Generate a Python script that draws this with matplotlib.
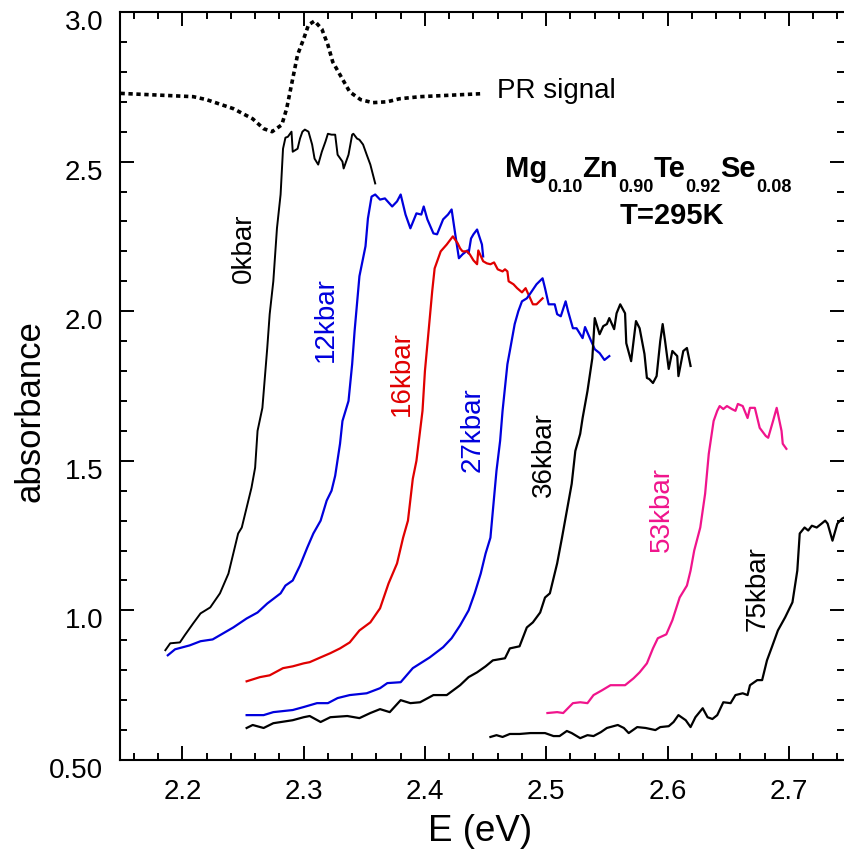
import matplotlib
matplotlib.use('Agg')
import matplotlib.pyplot as plt
import matplotlib.transforms as mtransforms
from matplotlib.ticker import MultipleLocator

plt.rcParams['font.family'] = ['Liberation Sans', 'DejaVu Sans']

# PR signal (dotted)
pr_e = [2.149, 2.209, 2.220, 2.242, 2.258, 2.267, 2.274, 2.282, 2.286, 2.290, 2.295, 2.300, 2.304,
        2.309, 2.315, 2.320, 2.324, 2.330, 2.338, 2.347, 2.357, 2.369, 2.379, 2.396, 2.447]
pr_a = [2.728, 2.717, 2.707, 2.677, 2.643, 2.610, 2.600, 2.623, 2.677, 2.757, 2.857, 2.910, 2.957,
        2.970, 2.943, 2.890, 2.833, 2.790, 2.733, 2.707, 2.697, 2.700, 2.710, 2.717, 2.727]

# 0 kbar
e0 = [2.186, 2.190, 2.198, 2.202, 2.209, 2.215, 2.223, 2.231, 2.238, 2.242,
      2.246, 2.249, 2.257, 2.260, 2.262, 2.266, 2.270, 2.272, 2.275, 2.278,
      2.281, 2.283, 2.285, 2.287, 2.290, 2.291, 2.295, 2.297, 2.299, 2.301,
      2.304, 2.307, 2.309, 2.312, 2.315, 2.318, 2.320, 2.323, 2.326, 2.328,
      2.332, 2.333, 2.337, 2.340, 2.341, 2.344, 2.346, 2.349, 2.352, 2.355,
      2.359]
a0 = [0.867, 0.890, 0.893, 0.917, 0.957, 0.990, 1.010, 1.057, 1.123, 1.190,
      1.257, 1.277, 1.410, 1.477, 1.600, 1.677, 1.877, 1.990, 2.100, 2.277,
      2.390, 2.543, 2.580, 2.583, 2.600, 2.533, 2.543, 2.577, 2.600, 2.607,
      2.600, 2.557, 2.510, 2.490, 2.533, 2.567, 2.593, 2.590, 2.590, 2.523,
      2.500, 2.477, 2.523, 2.590, 2.593, 2.577, 2.573, 2.557, 2.523, 2.490,
      2.427]

# 12 kbar
e12 = [2.188, 2.194, 2.206, 2.215, 2.225, 2.242, 2.253, 2.262, 2.270, 2.281,
       2.285, 2.291, 2.297, 2.303, 2.308, 2.314, 2.319, 2.323, 2.326, 2.330,
       2.332, 2.337, 2.340, 2.342, 2.346, 2.351, 2.353, 2.356, 2.359, 2.363,
       2.367, 2.373, 2.377, 2.380, 2.384, 2.388, 2.393, 2.397, 2.399, 2.402,
       2.407, 2.410, 2.415, 2.419, 2.422, 2.425, 2.428, 2.431, 2.435, 2.436,
       2.438, 2.440, 2.443, 2.444, 2.447, 2.448]
a12 = [0.850, 0.870, 0.883, 0.897, 0.903, 0.943, 0.973, 0.993, 1.023, 1.057,
       1.083, 1.100, 1.150, 1.210, 1.257, 1.300, 1.367, 1.400, 1.450, 1.557,
       1.633, 1.700, 1.823, 1.933, 2.117, 2.217, 2.310, 2.383, 2.390, 2.373,
       2.377, 2.350, 2.367, 2.390, 2.323, 2.277, 2.327, 2.323, 2.350, 2.307,
       2.260, 2.257, 2.307, 2.323, 2.340, 2.257, 2.177, 2.190, 2.203, 2.193,
       2.243, 2.257, 2.273, 2.260, 2.223, 2.183]

# 16 kbar
e16 = [2.253, 2.264, 2.272, 2.283, 2.291, 2.300, 2.305, 2.314, 2.322, 2.330,
       2.338, 2.346, 2.355, 2.363, 2.370, 2.377, 2.382, 2.386, 2.390, 2.393,
       2.398, 2.400, 2.403, 2.406, 2.408, 2.413, 2.418, 2.423, 2.427, 2.429,
       2.431, 2.435, 2.437, 2.440, 2.443, 2.444, 2.448, 2.451, 2.454, 2.457,
       2.460, 2.464, 2.466, 2.468, 2.469, 2.473, 2.476, 2.480, 2.483, 2.486,
       2.489, 2.492, 2.497]
a16 = [0.763, 0.777, 0.783, 0.807, 0.813, 0.823, 0.827, 0.843, 0.857, 0.873,
       0.893, 0.933, 0.960, 1.007, 1.090, 1.157, 1.243, 1.300, 1.440, 1.500,
       1.667, 1.800, 1.933, 2.067, 2.143, 2.200, 2.223, 2.250, 2.227, 2.210,
       2.200, 2.200, 2.190, 2.170, 2.157, 2.203, 2.167, 2.160, 2.157, 2.163,
       2.140, 2.133, 2.140, 2.133, 2.100, 2.090, 2.077, 2.063, 2.077, 2.050,
       2.023, 2.023, 2.043]

# 27 kbar
e27 = [2.253, 2.267, 2.275, 2.291, 2.300, 2.311, 2.320, 2.328, 2.338, 2.352,
       2.363, 2.369, 2.380, 2.390, 2.404, 2.415, 2.422, 2.429, 2.436, 2.441,
       2.446, 2.450, 2.454, 2.456, 2.459, 2.462, 2.464, 2.468, 2.470, 2.474,
       2.477, 2.480, 2.484, 2.487, 2.492, 2.497, 2.499, 2.502, 2.507, 2.509,
       2.512, 2.516, 2.518, 2.522, 2.525, 2.530, 2.532, 2.536, 2.540, 2.544,
       2.548, 2.552]
a27 = [0.650, 0.650, 0.660, 0.667, 0.677, 0.690, 0.690, 0.707, 0.717, 0.723,
       0.740, 0.757, 0.760, 0.807, 0.843, 0.877, 0.907, 0.950, 1.000, 1.057,
       1.123, 1.190, 1.243, 1.333, 1.467, 1.567, 1.667, 1.823, 1.867, 1.957,
       2.000, 2.033, 2.043, 2.060, 2.090, 2.110, 2.077, 2.023, 2.023, 1.990,
       1.983, 2.033, 2.000, 1.943, 1.943, 1.910, 1.947, 1.910, 1.873, 1.860,
       1.837, 1.850]

# 36 kbar
e36 = [2.253, 2.258, 2.267, 2.275, 2.291, 2.300, 2.305, 2.314, 2.322, 2.336,
       2.346, 2.355, 2.363, 2.371, 2.380, 2.388, 2.396, 2.407, 2.418, 2.429,
       2.436, 2.443, 2.450, 2.456, 2.466, 2.470, 2.478, 2.484, 2.489, 2.495,
       2.499, 2.503, 2.506, 2.509, 2.513, 2.517, 2.521, 2.524, 2.528, 2.530,
       2.534, 2.538, 2.540, 2.544, 2.547, 2.550, 2.552, 2.556, 2.558, 2.561,
       2.565, 2.566, 2.570, 2.574, 2.577, 2.581, 2.583, 2.585, 2.588, 2.591,
       2.594, 2.596, 2.598, 2.601, 2.604, 2.608, 2.609, 2.613, 2.616, 2.619]
a36 = [0.607, 0.617, 0.607, 0.623, 0.633, 0.643, 0.647, 0.627, 0.643, 0.647,
       0.640, 0.657, 0.670, 0.660, 0.700, 0.690, 0.693, 0.717, 0.717, 0.750,
       0.777, 0.793, 0.813, 0.833, 0.840, 0.873, 0.880, 0.943, 0.960, 0.993,
       1.043, 1.057, 1.107, 1.157, 1.243, 1.333, 1.423, 1.533, 1.590, 1.643,
       1.733, 1.843, 1.977, 1.923, 1.950, 1.957, 1.977, 1.940, 1.993, 2.023,
       1.993, 1.893, 1.833, 1.967, 1.943, 1.857, 1.777, 1.773, 1.760, 1.783,
       1.900, 1.957, 1.900, 1.807, 1.867, 1.850, 1.783, 1.867, 1.877, 1.817]

# 53 kbar
e53 = [2.501, 2.509, 2.514, 2.522, 2.528, 2.534, 2.539, 2.546, 2.553, 2.565,
       2.572, 2.577, 2.583, 2.588, 2.592, 2.599, 2.604, 2.610, 2.616, 2.619,
       2.622, 2.627, 2.631, 2.634, 2.638, 2.641, 2.643, 2.646, 2.649, 2.653,
       2.656, 2.658, 2.662, 2.666, 2.668, 2.672, 2.676, 2.681, 2.683, 2.687,
       2.690, 2.694, 2.695, 2.698]
a53 = [0.657, 0.660, 0.657, 0.690, 0.693, 0.690, 0.717, 0.733, 0.750, 0.750,
       0.773, 0.793, 0.823, 0.873, 0.907, 0.920, 0.967, 1.043, 1.083, 1.133,
       1.200, 1.277, 1.390, 1.523, 1.633, 1.667, 1.683, 1.673, 1.683, 1.673,
       1.667, 1.690, 1.683, 1.643, 1.677, 1.677, 1.610, 1.583, 1.577, 1.633,
       1.677, 1.600, 1.557, 1.540]

# 75 kbar
e75 = [2.454, 2.459, 2.464, 2.470, 2.478, 2.487, 2.492, 2.499, 2.506, 2.511,
       2.517, 2.521, 2.528, 2.534, 2.539, 2.545, 2.550, 2.559, 2.564, 2.568,
       2.575, 2.582, 2.590, 2.594, 2.601, 2.605, 2.609, 2.615, 2.619, 2.623,
       2.629, 2.633, 2.637, 2.641, 2.646, 2.652, 2.656, 2.662, 2.666, 2.668,
       2.674, 2.678, 2.682, 2.686, 2.691, 2.697, 2.703, 2.707, 2.709, 2.713,
       2.716, 2.719, 2.723, 2.727, 2.730, 2.732, 2.736, 2.740, 2.744, 2.749]
a75 = [0.577, 0.583, 0.577, 0.587, 0.587, 0.590, 0.590, 0.590, 0.580, 0.580,
       0.597, 0.590, 0.573, 0.583, 0.580, 0.593, 0.607, 0.617, 0.607, 0.590,
       0.610, 0.607, 0.600, 0.610, 0.613, 0.627, 0.650, 0.633, 0.610, 0.643,
       0.673, 0.643, 0.637, 0.650, 0.693, 0.690, 0.717, 0.723, 0.717, 0.750,
       0.767, 0.767, 0.833, 0.877, 0.933, 0.977, 1.027, 1.133, 1.257, 1.277,
       1.267, 1.283, 1.277, 1.290, 1.300, 1.290, 1.233, 1.290, 1.307, 1.317]

blue = '#0000dd'
red = '#e00000'
pink = '#f0148c'

fig = plt.figure(figsize=(8.44, 8.55), dpi=100, facecolor='white')
ax = fig.add_axes([120 / 844, 95 / 855, 724 / 844, 748 / 855])

ax.plot(pr_e, pr_a, color='black', lw=2.6, linestyle=(0, (1.2, 1.0)), dash_capstyle='butt')
ax.plot(e0, a0, color='black', lw=1.4)
ax.plot(e12, a12, color=blue, lw=1.6)
ax.plot(e16, a16, color=red, lw=1.6)
ax.plot(e27, a27, color=blue, lw=1.6)
ax.plot(e36, a36, color='black', lw=1.6)
ax.plot(e53, a53, color=pink, lw=1.6)
ax.plot(e75, a75, color='black', lw=1.6)

ax.set_xlim(2.1486, 2.7455)
ax.set_ylim(0.5, 3.0)

# rotated pressure labels
ax.text(2.251, 2.21, '0kbar', rotation=90, ha='center', va='center', fontsize=20, color='black')
ax.text(2.318, 1.973, '12kbar', rotation=90, ha='center', va='center', fontsize=20, color=blue)
ax.text(2.381, 1.793, '16kbar', rotation=90, ha='center', va='center', fontsize=20, color=red)
ax.text(2.439, 1.603, '27kbar', rotation=90, ha='center', va='center', fontsize=20, color=blue)
ax.text(2.498, 1.52, '36kbar', rotation=90, ha='center', va='center', fontsize=20, color='black')
ax.text(2.595, 1.337, '53kbar', rotation=90, ha='center', va='center', fontsize=20, color=pink)
ax.text(2.674, 1.073, '75kbar', rotation=90, ha='center', va='center', fontsize=20, color='black')

ax.text(2.4594, 2.735, 'PR signal', ha='left', va='center', fontsize=20)

# composition with hand-placed subscripts
renderer = fig.canvas.get_renderer()
pieces = [('Mg', 21, 0), ('0.10', 13, -10.8), ('Zn', 21, 0), ('0.90', 13, -10.8),
          ('Te', 21, 0), ('0.92', 13, -10.8), ('Se', 21, 0), ('0.08', 13, -10.8)]
dx = 0
for s, size, dy in pieces:
    t = ax.annotate(s, (2.4659, 2.45), xytext=(dx, dy), textcoords='offset points',
                    fontsize=size, fontweight='bold', ha='left', va='baseline')
    dx += t.get_window_extent(renderer).width * 72 / fig.dpi
ax.text(2.604, 2.29, 'T=295K', ha='center', va='baseline', fontsize=21, fontweight='bold')

# axes styling
ax.spines['right'].set_visible(False)
for side in ['left', 'bottom', 'top']:
    ax.spines[side].set_linewidth(1.5)

ax.xaxis.set_major_locator(MultipleLocator(0.1))
ax.xaxis.set_minor_locator(MultipleLocator(0.02))
ax.set_yticks([0.5, 1.0, 1.5, 2.0, 2.5, 3.0], ['0.50', '1.0', '1.5', '2.0', '2.5', '3.0'])
ax.yaxis.set_minor_locator(MultipleLocator(0.1))
ax.tick_params(which='both', direction='in', top=True, right=True, width=1.4, labelsize=20)
ax.tick_params(which='major', length=10)
ax.tick_params(which='minor', length=5)
ax.tick_params(axis='x', pad=14)
ax.tick_params(axis='y', pad=12)

shift = mtransforms.ScaledTranslation(0, -8 / 100, fig.dpi_scale_trans)
for lab in ax.get_yticklabels():
    lab.set_transform(lab.get_transform() + shift)

fig.text(30 / 844, 1 - 411 / 855, 'absorbance', rotation=90, ha='center', va='center', fontsize=25)
fig.text(480 / 844, 1 - 831 / 855, 'E (eV)', ha='center', va='center', fontsize=26.5)

fig.savefig('out.png', dpi=100)
